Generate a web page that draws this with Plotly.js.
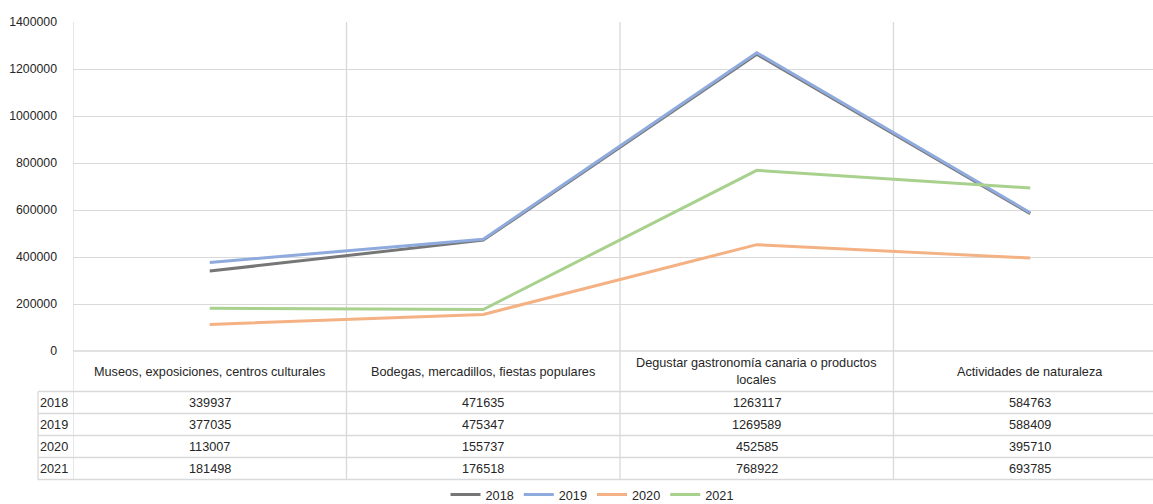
<!DOCTYPE html>
<html>
<head>
<meta charset="utf-8">
<script src="https://cdn.plot.ly/plotly-3.0.1.min.js"></script>
<style>
html,body{margin:0;padding:0;overflow:hidden;background:#fff;width:1153px;height:504px;}
#chart{width:1170px;height:504px;}
</style>
</head>
<body>
<div id="chart"></div>
<script>
var categories = [
  "Museos, exposiciones, centros culturales",
  "Bodegas, mercadillos, fiestas populares",
  "Degustar gastronomía canaria o productos<br>locales",
  "Actividades de naturaleza"
];
var years = ["2018", "2019", "2020", "2021"];
var v2018 = [339937, 471635, 1263117, 584763];
var v2019 = [377035, 475347, 1269589, 588409];
var v2020 = [113007, 155737, 452585, 395710];
var v2021 = [181498, 176518, 768922, 693785];
var seriesValues = [v2018, v2019, v2020, v2021];
var colors = ["#767676", "#8faadc", "#f4b183", "#a9d18e"];

var W = 1170, H = 504;
var mL = 73, mR = 3, mT = 22, mB = 153;
var plotW = W - mL - mR, plotH = H - mT - mB;
function py(p){ return (H - mB - p) / plotH; }   // pixel y -> paper y
function px(p){ return (p - mL) / plotW; }        // pixel x -> paper x

var catIdx = categories.map(function(c,i){return i;});
var traces = years.map(function(y, i){
  return {
    type: "scatter", mode: "lines", name: y,
    x: catIdx, y: seriesValues[i],
    line: {color: colors[i], width: 3},
    hoverinfo: "x+y"
  };
});

var grid = "#d9d9d9";
var txt = "#262626";
var fs = 12.7;
var shapes = [];
var annotations = [];
var tableBottom = py(480);
var rowLines = [391.5, 413.5, 435.5, 457.5, 479.5];
// vertical separators between categories (plot + table)
for (var k = 0; k <= categories.length; k++) {
  shapes.push({type:"line", xref:"x", yref:"paper", x0:k-0.5, x1:k-0.5, y0:1, y1:tableBottom,
    line:{color:grid, width:1.3}, layer:"below"});
}
// zero line
shapes.push({type:"line", xref:"paper", yref:"paper", x0:0, x1:1, y0:0, y1:0,
  line:{color:grid, width:1.3}, layer:"below"});
// year column left edge
shapes.push({type:"line", xref:"paper", yref:"paper", x0:px(38), x1:px(38), y0:py(391.5), y1:tableBottom,
  line:{color:grid, width:1.3}});
// horizontal table lines
rowLines.forEach(function(r){
  shapes.push({type:"line", xref:"paper", yref:"paper", x0:px(38), x1:1, y0:py(r), y1:py(r),
    line:{color:grid, width:1.3}});
});

// category header labels
categories.forEach(function(c, i){
  annotations.push({xref:"x", yref:"paper", x:i, y:py(371.5), text:c, showarrow:false,
    xanchor:"center", yanchor:"middle", align:"center", font:{size:fs, color:txt}});
});
// rows
years.forEach(function(y, r){
  var yc = py((rowLines[r] + rowLines[r+1]) / 2);
  annotations.push({xref:"paper", yref:"paper", x:px(38), y:yc, text:y, showarrow:false,
    xanchor:"left", yanchor:"middle", font:{size:fs, color:txt}});
  seriesValues[r].forEach(function(v, i){
    annotations.push({xref:"x", yref:"paper", x:i, y:yc, text:String(v), showarrow:false,
      xanchor:"center", yanchor:"middle", font:{size:fs, color:txt}});
  });
});

var layout = {
  width: W, height: H,
  margin: {l: mL, r: mR, t: mT, b: mB, pad: 0, autoexpand: false},
  paper_bgcolor: "#fff", plot_bgcolor: "#fff",
  font: {family: "Liberation Sans, Arial, sans-serif", size: 12, color: txt},
  showlegend: true,
  legend: {orientation: "h", xref: "container", yref: "container", x: 0.506, y: 0.048,
    xanchor: "center", yanchor: "top", font: {size: fs, color: txt},
    itemwidth: 30, tracegroupgap: 0, bgcolor: "rgba(0,0,0,0)"},
  xaxis: {type: "linear", range: [-0.5, categories.length - 0.5], showgrid: false, zeroline: false,
    showticklabels: false, ticks: "", showline: false, fixedrange: true},
  yaxis: {range: [0, 1400000], dtick: 200000, tickformat: "d", showgrid: true, gridcolor: grid,
    gridwidth: 1.3, zeroline: false, showline: false, ticks: "", ticklabelstandoff: 15,
    tickfont: {size: 12.3, color: txt}, fixedrange: true},
  shapes: shapes,
  annotations: annotations
};

Plotly.newPlot("chart", traces, layout, {displayModeBar: false, responsive: false});
</script>
</body>
</html>
